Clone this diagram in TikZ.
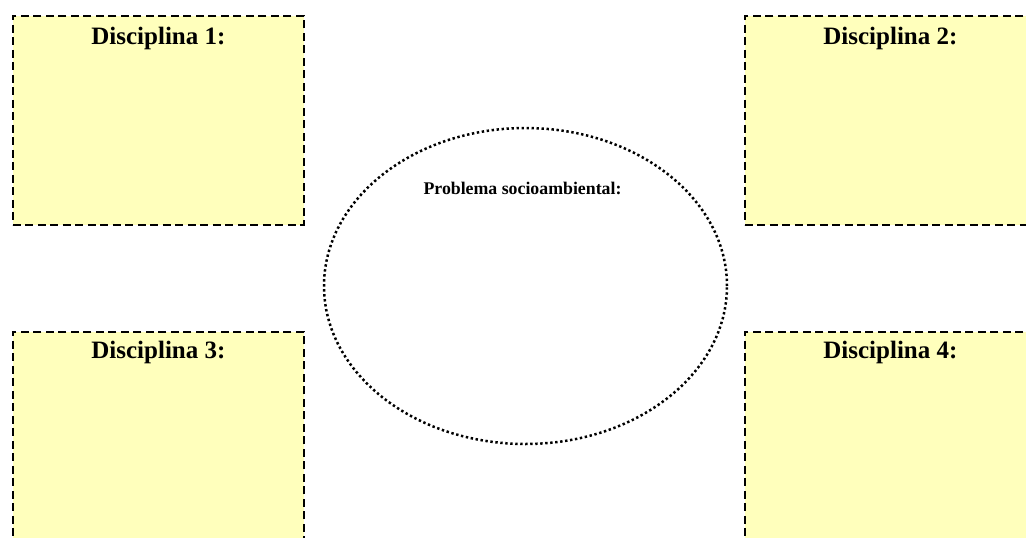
\documentclass[tikz,border=0pt]{standalone}
\usepackage{fontspec}
\setmainfont{Liberation Serif}
\usetikzlibrary{shapes.geometric}
\definecolor{boxyellow}{RGB}{255,255,188}
\begin{document}
\begin{tikzpicture}[x=1pt,y=-1pt]
\tikzset{
  disc/.style={draw=black, dash pattern=on 8pt off 4.5pt, line width=1.8pt,
    fill=boxyellow, minimum width=291pt, minimum height=209pt,
    anchor=north west, inner sep=0pt},
  disctitle/.style={anchor=base, font=\bfseries\fontsize{25}{28}\selectfont, inner sep=0pt},
  probring/.style={draw=black, ellipse, line width=2.5pt, dash pattern=on 2.4pt off 2.6pt,
    minimum width=403pt, minimum height=316pt, inner sep=0pt},
  probtitle/.style={anchor=base, font=\bfseries\fontsize{17.8}{20}\selectfont, inner sep=0pt}
}
\fill[white] (0,0) rectangle (1026,538);
\useasboundingbox (0,0) rectangle (1026,538);
\node[disc] (d1) at (12,15) {};
\node[disc] (d2) at (744,15) {};
\node[disc] (d3) at (12,331) {};
\node[disc] (d4) at (744,331) {};
\node[disctitle] (t1) at ([yshift=-29pt]d1.north) {Disciplina 1:};
\node[disctitle] (t2) at ([yshift=-29pt]d2.north) {Disciplina 2:};
\node[disctitle] (t3) at ([yshift=-27pt]d3.north) {Disciplina 3:};
\node[disctitle] (t4) at ([yshift=-27pt]d4.north) {Disciplina 4:};
\node[probring] (e) at (525.5,286) {};
\node[probtitle] (p) at ([xshift=-3pt,yshift=-68pt]e.north) {Problema socioambiental:};
\end{tikzpicture}
\end{document}
